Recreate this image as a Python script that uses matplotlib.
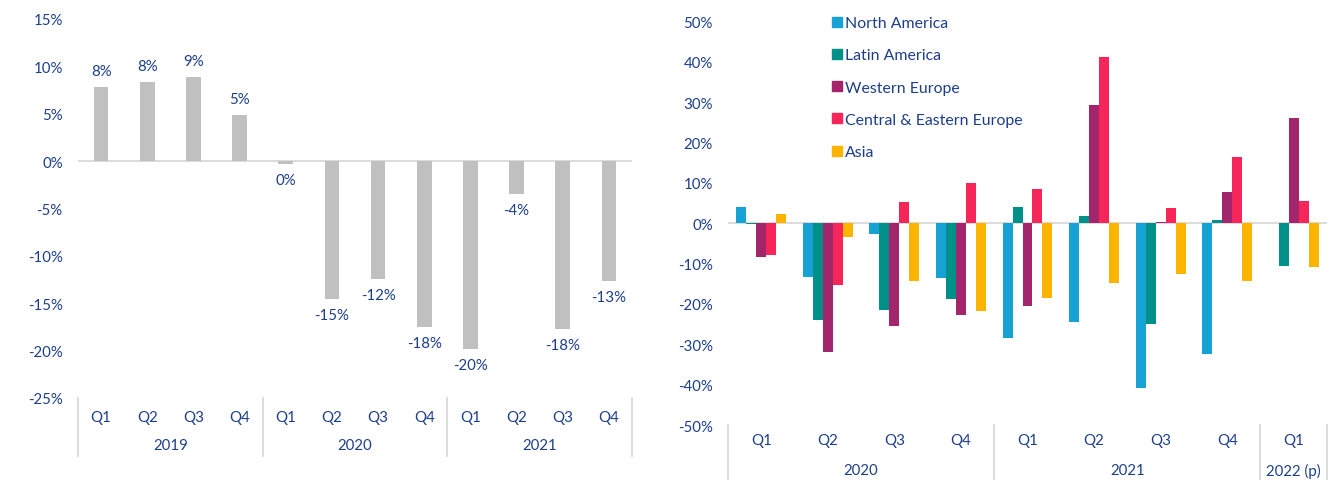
import matplotlib
matplotlib.use("Agg")
import matplotlib.pyplot as plt
import matplotlib.transforms as mtransforms
from matplotlib.lines import Line2D

# left chart: quarterly change
left_quarters = ["Q1", "Q2", "Q3", "Q4"] * 3
left_years = ["2019", "2020", "2021"]
left_year_sizes = [4, 4, 4]
left_values = [7.8, 8.4, 8.9, 4.9, -0.3, -14.6, -12.4, -17.5, -19.8, -3.5, -17.7, -12.6]

# right chart: by region
right_quarters = ["Q1", "Q2", "Q3", "Q4", "Q1", "Q2", "Q3", "Q4", "Q1"]
right_years = ["2020", "2021", "2022 (p)"]
right_year_sizes = [4, 4, 1]
regions = ["North America", "Latin America", "Western Europe",
           "Central & Eastern Europe", "Asia"]
north_america = [4.1, -13.2, -2.7, -13.5, -28.5, -24.5, -40.8, -32.5, 0.0]
latin_america = [-0.3, -24.0, -21.6, -18.8, 4.1, 1.8, -25.0, 0.8, -10.6]
western_europe = [-8.4, -31.9, -25.5, -22.7, -20.5, 29.3, 0.2, 7.7, 26.0]
central_eastern_europe = [-7.9, -15.3, 5.2, 9.9, 8.5, 41.2, 3.7, 16.5, 5.6]
asia = [2.2, -3.5, -14.3, -21.7, -18.5, -14.8, -12.7, -14.3, -10.9]

TEXT = "#1D3F8A"
GRID = "#D9D9D9"
region_colors = ["#16A2D5", "#00908A", "#A3266D", "#F6265B", "#FDB400"]

plt.rcParams["font.family"] = ["Lato", "DejaVu Sans"]
plt.rcParams["font.size"] = 10.5

W, H = 1342, 481
fig = plt.figure(figsize=(W / 100, H / 100), dpi=100)


def px_axes(x0, x1, ytop, ybot):
    return fig.add_axes([x0 / W, 1 - ybot / H, (x1 - x0) / W, (ybot - ytop) / H])


def style_axes(ax, ylim, step):
    ax.set_ylim(*ylim)
    ax.set_yticks(range(ylim[0], ylim[1] + 1, step))
    ax.set_yticklabels([f"{t}%" for t in range(ylim[0], ylim[1] + 1, step)])
    for s in ax.spines.values():
        s.set_visible(False)
    ax.tick_params(axis="y", length=0, pad=11, colors=TEXT, labelsize=10.8)
    ax.tick_params(axis="x", length=0)
    ax.set_xticks([])
    ax.axhline(0, color=GRID, lw=1.3, zorder=1)


def category_axis(ax, quarters, years, sizes, q_off, y_off, sep_len):
    n = len(quarters)
    ax.set_xlim(-0.5, n - 0.5)
    trans = mtransforms.blended_transform_factory(ax.transData, ax.transAxes)
    for i, q in enumerate(quarters):
        ax.annotate(q, xy=(i, 0), xycoords=trans, xytext=(0, -q_off),
                    textcoords="offset pixels", ha="center", va="center",
                    color=TEXT, fontsize=10.8)
    start = 0
    bounds = [-0.5]
    for y, s in zip(years, sizes):
        mid = start + (s - 1) / 2
        ax.annotate(y, xy=(mid, 0), xycoords=trans, xytext=(0, -y_off),
                    textcoords="offset pixels", ha="center", va="center",
                    color=TEXT, fontsize=10.8)
        start += s
        bounds.append(start - 0.5)
    for b in bounds:
        ax.add_line(Line2D([b, b], [0, -sep_len], transform=trans,
                           color=GRID, lw=1.3, clip_on=False))


# ---- left chart
ax1 = px_axes(78, 632, 20, 399)
style_axes(ax1, (-25, 15), 5)
category_axis(ax1, left_quarters, left_years, left_year_sizes, 19, 47, 58 / 379)
xs = range(len(left_values))
ax1.bar(xs, left_values, width=0.32, color="#C0C0C0", zorder=2)
for x, v in zip(xs, left_values):
    off = 16 if v > 0 else -16
    ax1.annotate(f"{int(round(v))}%", xy=(x, v), xytext=(0, off),
                 textcoords="offset pixels", ha="center", va="center",
                 color=TEXT, fontsize=10.8)

# ---- right chart
ax2 = px_axes(728, 1327, 22.5, 426)
style_axes(ax2, (-50, 50), 10)
category_axis(ax2, right_quarters, right_years, right_year_sizes, 15, 45, 54 / 403.5)
series = [north_america, latin_america, western_europe, central_eastern_europe, asia]
bw = 0.15
for k, (name, vals, col) in enumerate(zip(regions, series, region_colors)):
    pos = [i + (k - 2) * bw for i in range(len(vals))]
    ax2.bar(pos, vals, width=bw, color=col, zorder=2, label=name)

handles = [Line2D([], [], marker="s", linestyle="none", markersize=6.8,
                  color=c, label=r) for r, c in zip(regions, region_colors)]
leg = fig.legend(handles=handles, loc="upper left",
                 bbox_to_anchor=(833 / W, 1 - 17 / H), frameon=False,
                 handlelength=0.55, handletextpad=0.2, labelspacing=1.15,
                 borderpad=0, borderaxespad=0, fontsize=11.4)
for t in leg.get_texts():
    t.set_color(TEXT)

fig.savefig("out.png", dpi=100)
